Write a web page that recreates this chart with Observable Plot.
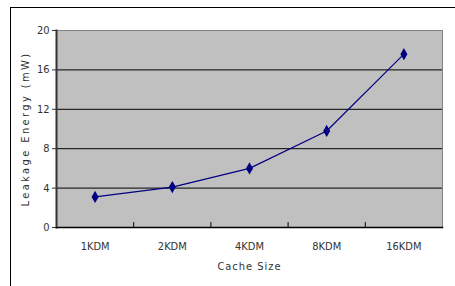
<!DOCTYPE html>
<html>
<head>
<meta charset="utf-8">
<script src="https://cdn.jsdelivr.net/npm/d3@7"></script>
<script src="https://cdn.jsdelivr.net/npm/@observablehq/plot@0.6"></script>
<style>
  html, body { margin: 0; padding: 0; background: #fff; }
  #wrap { position: relative; width: 455px; height: 286px; }
  #border { position: absolute; left: 10px; top: 7px; right: 0; bottom: 0; border-top: 1.5px solid #000; border-left: 1.5px solid #000; pointer-events: none; }
  svg { font-family: "Liberation Sans Narrow", "DejaVu Sans Condensed", "Liberation Sans", sans-serif; }
  [aria-label="y-axis label"] text { letter-spacing: 2.4px; }
  [aria-label="x-axis label"] text { letter-spacing: 1px; }
</style>
</head>
<body>
<div id="wrap"><div id="border"></div></div>
<script>
const sizes = ["1KDM", "2KDM", "4KDM", "8KDM", "16KDM"];
const energy = [3.1, 4.1, 6.0, 9.8, 17.6];
const yTicks = [0, 4, 8, 12, 16, 20];
const gridValues = [4, 8, 12, 16];
const boundaries = [1, 2, 3, 4];

const data = sizes.map((s, i) => ({size: s, pos: i + 0.5, energy: energy[i]}));

const chart = Plot.plot({
  width: 455,
  height: 286,
  marginLeft: 56,
  marginRight: 13,
  marginTop: 30,
  marginBottom: 59,
  style: {fontSize: "11px", color: "#333", background: "transparent"},
  x: {domain: [0, sizes.length]},
  y: {domain: [0, 20]},
  marks: [
    Plot.frame({fill: "#c0c0c0", stroke: "#808080", strokeWidth: 1}),
    Plot.ruleY(gridValues, {stroke: "#000", strokeWidth: 1}),
    Plot.ruleX(boundaries, {y1: 0, y2: 0.5, stroke: "#000", strokeWidth: 1}),
    Plot.axisX(data.map(d => d.pos), {
      tickSize: 0, tickPadding: 15,
      tickFormat: (d) => sizes[Math.floor(d)],
      label: "Cache Size", labelAnchor: "center", labelArrow: "none", labelOffset: 42
    }),
    Plot.axisY(yTicks, {
      tickSize: 4, tickPadding: 3,
      label: "Leakage Energy (mW)", labelAnchor: "center", labelArrow: "none", labelOffset: 35
    }),
    Plot.frame({anchor: "left", stroke: "#333", strokeWidth: 2}),
    Plot.frame({anchor: "bottom", stroke: "#000", strokeWidth: 1.5}),
    Plot.line(data, {x: "pos", y: "energy", stroke: "#000080", strokeWidth: 1.2}),
    Plot.dot(data, {x: "pos", y: "energy", symbol: "diamond", r: 2.8, fill: "#000080", stroke: "#000080"})
  ]
});
document.getElementById("wrap").prepend(chart);
</script>
</body>
</html>
